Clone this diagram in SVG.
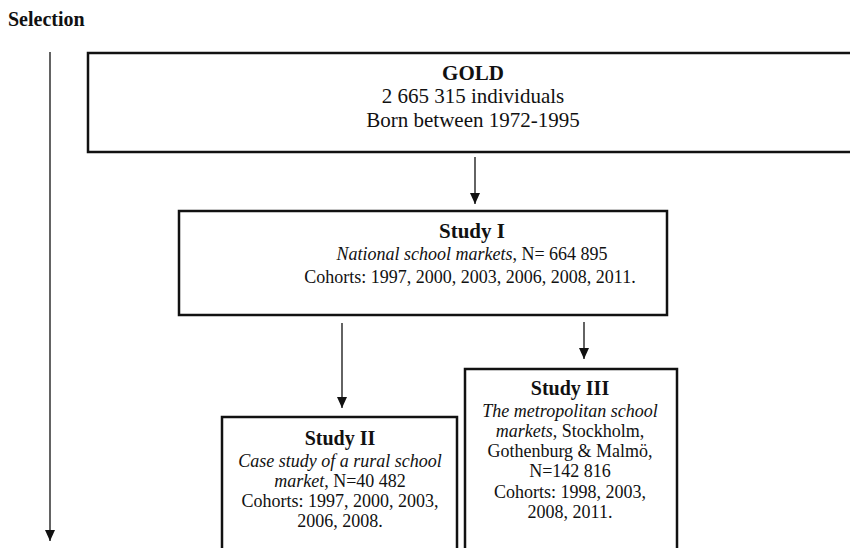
<svg xmlns="http://www.w3.org/2000/svg" width="850" height="548" viewBox="0 0 850 548">
<style>
text{font-family:"Liberation Serif","Times New Roman",serif;fill:#111;text-anchor:middle}
.h{font-weight:bold}
.i{font-style:italic}
.box{fill:#fff;stroke:#111;stroke-width:2.5}
.conn{stroke:#222;stroke-width:1.4;fill:none;marker-end:url(#ah)}
</style>
<defs>
<marker id="ah" markerUnits="userSpaceOnUse" markerWidth="12" markerHeight="10" refX="11" refY="5" orient="auto" viewBox="0 0 12 10">
<path d="M0,0 L11,5 L0,10 Z" fill="#111"/>
</marker>
</defs>
<rect width="850" height="548" fill="#fff"/>
<text x="8" y="26" class="h" style="text-anchor:start;font-size:20px">Selection</text>
<g id="connectors">
<line class="conn" x1="50" y1="52" x2="50" y2="541"/>
<line class="conn" x1="475" y1="157" x2="475" y2="204"/>
<line class="conn" x1="342" y1="323" x2="342" y2="408"/>
<line class="conn" x1="584" y1="322" x2="584" y2="359"/>
</g>
<g id="gold">
<rect class="box" x="88" y="53" width="764" height="99"/>
<text x="473" y="80" class="h" style="font-size:21px">GOLD</text>
<text x="473" y="103" style="font-size:21px">2 665 315 individuals</text>
<text x="473" y="127" style="font-size:21px">Born between 1972-1995</text>
</g>
<g id="study1">
<rect class="box" x="179" y="211" width="488" height="104"/>
<text x="472" y="238" class="h" style="font-size:21px">Study I</text>
<text x="472" y="260" style="font-size:18px"><tspan class="i">National school markets</tspan>, N= 664 895</text>
<text x="470" y="283" style="font-size:18px">Cohorts: 1997, 2000, 2003, 2006, 2008, 2011.</text>
</g>
<g id="study2">
<rect class="box" x="222" y="417" width="235" height="140"/>
<text x="340" y="445" class="h" style="font-size:20px">Study II</text>
<text x="340" y="467" class="i" style="font-size:18px">Case study of a rural school</text>
<text x="340" y="487" style="font-size:18px"><tspan class="i">market</tspan>, N=40 482</text>
<text x="340" y="507" style="font-size:18px">Cohorts: 1997, 2000, 2003,</text>
<text x="340" y="527" style="font-size:18px">2006, 2008.</text>
</g>
<g id="study3">
<rect class="box" x="465" y="369" width="212" height="188"/>
<text x="570" y="395" class="h" style="font-size:20px">Study III</text>
<text x="570" y="417" class="i" style="font-size:18px">The metropolitan school</text>
<text x="570" y="437" style="font-size:18px"><tspan class="i">markets</tspan>, Stockholm,</text>
<text x="570" y="457" style="font-size:18px">Gothenburg &amp; Malmö,</text>
<text x="570" y="477" style="font-size:18px">N=142 816</text>
<text x="570" y="498" style="font-size:18px">Cohorts: 1998, 2003,</text>
<text x="570" y="518" style="font-size:18px">2008, 2011.</text>
</g>
</svg>
